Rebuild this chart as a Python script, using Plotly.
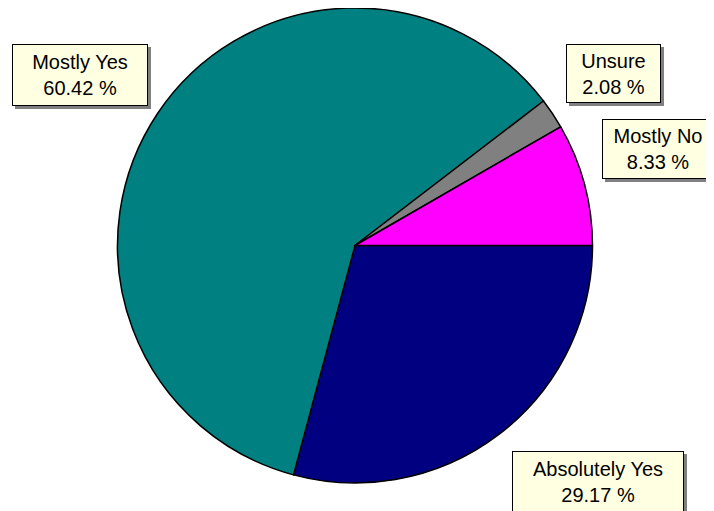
import plotly.graph_objects as go

labels = ["Absolutely Yes", "Mostly Yes", "Unsure", "Mostly No"]
values = [29.17, 60.42, 2.08, 8.33]
colors = ["#000080", "#008080", "#808080", "#FF00FF"]

OFF = 8  # default page body margin
W, H = 714 - OFF, 511 - OFF


def px(x):
    return (x - OFF) / W


def py(y):
    return min(1.0, max(0.0, 1 - (y - OFF) / H))


fig = go.Figure(go.Pie(
    labels=labels, values=values, sort=False, direction="clockwise", rotation=90,
    marker=dict(colors=colors, line=dict(color="black", width=1.5)),
    textinfo="none", hoverinfo="label+percent",
    domain=dict(x=[px(117), px(593)], y=[py(483), py(8)]),
))

# label box centres (px) and sizes
boxes = {
    "Mostly Yes": (80, 75, 134, 60),
    "Unsure": (613, 73.5, 93, 57),
    "Mostly No": (658, 149, 110, 58),
    "Absolutely Yes": (598, 482, 170, 60),
}
anns = []
for lab, val in zip(labels, values):
    cx, cy, bw, bh = boxes[lab]
    txt = f"{lab}<br>{val:.2f} %"
    common = dict(x=px(cx), y=py(cy), xref="paper", yref="paper",
                  xanchor="center", yanchor="middle", showarrow=False,
                  width=bw, height=bh, borderpad=0, align="center")
    anns.append(dict(text=" ", font=dict(size=10, color="#808080"),
                     bgcolor="#808080", bordercolor="#808080", borderwidth=1,
                     xshift=3, yshift=-3, **common))
    anns.append(dict(text=txt, font=dict(family="Liberation Sans, Arial", size=20, color="black"),
                     bgcolor="#FFFFE1", bordercolor="black", borderwidth=1, **common))

fig.update_layout(width=W, height=H, margin=dict(l=0, r=0, t=0, b=0),
                  paper_bgcolor="white", plot_bgcolor="white", showlegend=False,
                  annotations=anns)
fig.write_html("out.html")
